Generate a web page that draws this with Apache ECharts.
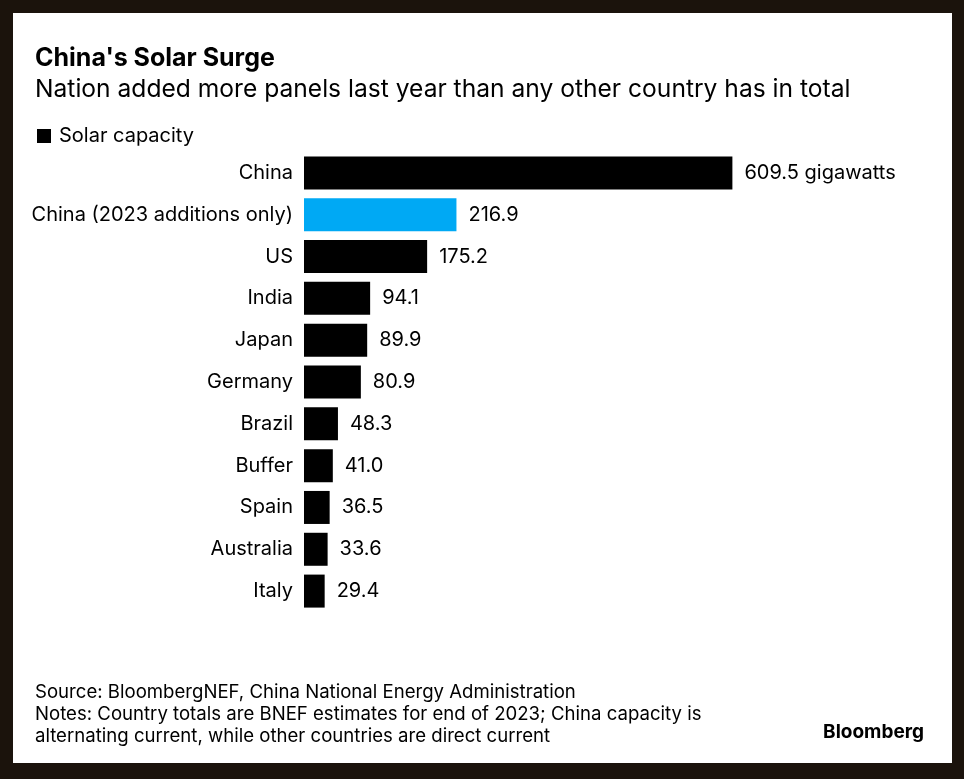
<!DOCTYPE html>
<html>
<head>
    <meta charset="UTF-8">
    <title>China's Solar Surge</title>
    <script src="https://cdn.jsdelivr.net/npm/echarts@6/dist/echarts.min.js"></script>
    <style>
        html, body { margin: 0; padding: 0; background: #1b130c; }
        #chart { width: 964px; height: 779px; }
    </style>
</head>
<body>
    <div id="chart"></div>
<script type="text/javascript">
    // data (gigawatts)
    var countries = ['China', 'China (2023 additions only)', 'US', 'India', 'Japan', 'Germany',
                     'Brazil', 'Buffer', 'Spain', 'Australia', 'Italy'];
    var capacity = [609.5, 216.9, 175.2, 94.1, 89.9, 80.9, 48.3, 41.0, 36.5, 33.6, 29.4];
    var barColors = ['#000000', '#00a9f4', '#000000', '#000000', '#000000', '#000000',
                     '#000000', '#000000', '#000000', '#000000', '#000000'];

    var font = 'Inter, "Liberation Sans", Arial, sans-serif';

    var barData = [];
    for (var i = 0; i < capacity.length; i++) {
        barData.push({ value: capacity[i], itemStyle: { color: barColors[i] } });
    }

    var option = {
        backgroundColor: '#1b130c',
        animation: false,
        textStyle: { fontFamily: font },
        graphic: [
            {
                type: 'rect', z: -10,
                shape: { x: 13, y: 13, width: 939, height: 750 },
                style: { fill: '#ffffff' }
            },
            {
                type: 'text', x: 35, y: 58,
                style: { text: "China's Solar Surge", font: 'bold 25px ' + font, fill: '#000', verticalAlign: 'middle' }
            },
            {
                type: 'text', x: 35, y: 90,
                style: { text: 'Nation added more panels last year than any other country has in total', font: '24.6px ' + font, fill: '#000', verticalAlign: 'middle' }
            },
            {
                type: 'text', x: 35, y: 681,
                style: {
                    text: 'Source: BloombergNEF, China National Energy Administration\nNotes: Country totals are BNEF estimates for end of 2023; China capacity is\nalternating current, while other countries are direct current',
                    font: '18.6px ' + font, fill: '#000', lineHeight: 22, verticalAlign: 'top'
                }
            },
            {
                type: 'text', x: 924, y: 732,
                style: { text: 'Bloomberg', font: 'bold 19px ' + font, fill: '#000', align: 'right', verticalAlign: 'middle' }
            }
        ],
        legend: {
            data: ['Solar capacity'],
            left: 32,
            top: 121,
            icon: 'rect',
            itemWidth: 14,
            itemHeight: 14,
            selectedMode: false,
            textStyle: { fontSize: 20, color: '#000', fontFamily: font, padding: [0, 0, 0, 3] }
        },
        grid: {
            left: 304,
            top: 152,
            width: 492,
            height: 460,
            containLabel: false
        },
        xAxis: {
            type: 'value',
            min: 0,
            max: 700,
            show: false
        },
        yAxis: {
            type: 'category',
            inverse: true,
            data: countries,
            axisLine: { show: false },
            axisTick: { show: false },
            splitLine: { show: false },
            axisLabel: {
                color: '#000',
                fontSize: 20,
                fontFamily: font,
                margin: 11
            }
        },
        series: [
            {
                name: 'Solar capacity',
                type: 'bar',
                data: barData,
                barWidth: 33,
                itemStyle: { color: '#000000' },
                label: {
                    show: true,
                    position: 'right',
                    distance: 12,
                    color: '#000',
                    fontSize: 20,
                    fontFamily: font,
                    formatter: function (p) {
                        var s = p.value.toFixed(1);
                        return p.dataIndex === 0 ? s + ' gigawatts' : s;
                    }
                }
            }
        ]
    };
    echarts.init(document.getElementById('chart')).setOption(option);
</script>
</body>
</html>
